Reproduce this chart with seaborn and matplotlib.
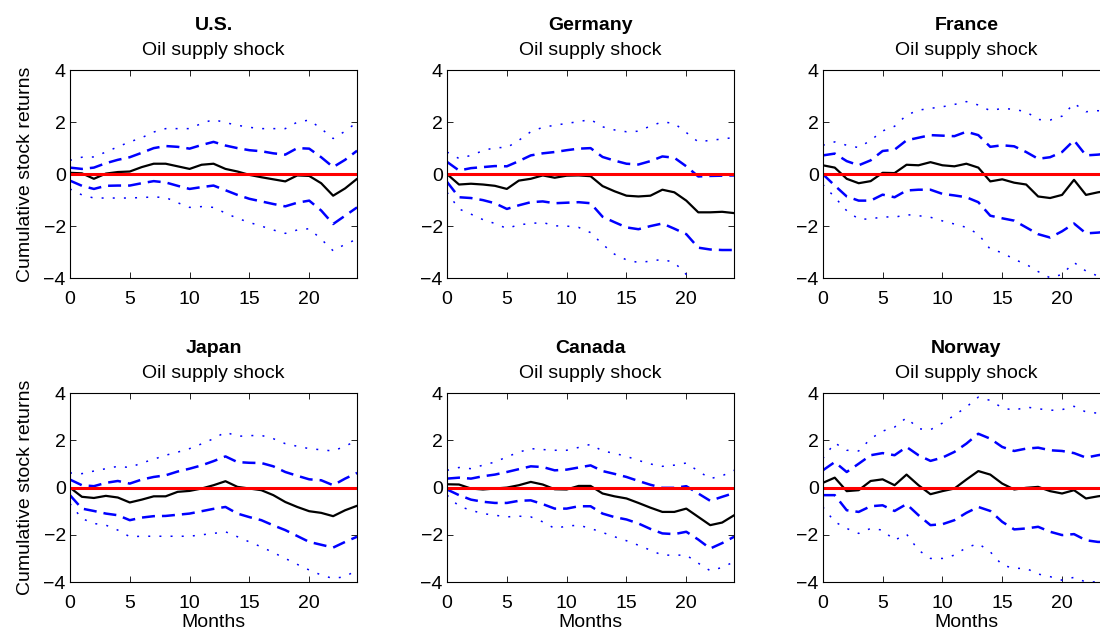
"""
Resposta acumulada dos retornos de acoes a um choque de oferta de petroleo.
Seis paises, mediana com bandas de 68% (tracejado) e 90% (pontilhado).
"""

import numpy as np
import pandas as pd
import seaborn as sns
import matplotlib.pyplot as plt

MONTHS = list(range(25))

# U.S.
US_MED = [0.05, 0.03, -0.18, 0.02, 0.08, 0.1, 0.27, 0.4, 0.4, 0.3, 0.2, 0.36, 0.4,
          0.2, 0.1, -0.03, -0.12, -0.2, -0.28, -0.05, -0.07, -0.35, -0.83, -0.55, -0.18]
US_HI68 = [0.25, 0.2, 0.25, 0.42, 0.55, 0.65, 0.82, 1.0, 1.08, 1.05, 0.98, 1.12, 1.24,
           1.1, 1.0, 0.92, 0.88, 0.8, 0.75, 1.0, 0.98, 0.65, 0.27, 0.55, 0.9]
US_LO68 = [-0.25, -0.45, -0.57, -0.45, -0.44, -0.44, -0.35, -0.27, -0.32, -0.45, -0.57, -0.5, -0.44,
           -0.62, -0.8, -0.95, -1.05, -1.15, -1.24, -1.1, -1.02, -1.4, -1.92, -1.6, -1.28]
US_HI90 = [0.53, 0.65, 0.66, 0.85, 1.05, 1.24, 1.4, 1.62, 1.75, 1.75, 1.75, 1.95, 2.1,
           1.98, 1.88, 1.8, 1.75, 1.75, 1.75, 2.0, 2.08, 1.75, 1.37, 1.65, 2.0]
US_LO90 = [-0.57, -0.8, -0.92, -0.92, -0.92, -0.92, -0.9, -0.88, -0.9, -1.1, -1.28, -1.25, -1.28,
           -1.5, -1.7, -1.86, -2.0, -2.15, -2.28, -2.15, -2.1, -2.5, -2.95, -2.7, -2.5]

# Germany
DE_MED = [0.0, -0.4, -0.37, -0.4, -0.45, -0.57, -0.25, -0.18, -0.05, -0.14, -0.06, -0.05, -0.08,
          -0.46, -0.66, -0.83, -0.86, -0.83, -0.6, -0.7, -1.02, -1.47, -1.47, -1.45, -1.5]
DE_HI68 = [0.47, 0.14, 0.23, 0.27, 0.31, 0.3, 0.5, 0.72, 0.8, 0.85, 0.92, 0.98, 1.0,
           0.66, 0.52, 0.4, 0.37, 0.5, 0.68, 0.63, 0.3, -0.09, -0.07, -0.06, -0.05]
DE_LO68 = [-0.3, -0.89, -0.92, -1.0, -1.12, -1.34, -1.2, -1.08, -1.05, -1.12, -1.1, -1.08, -1.12,
           -1.64, -1.85, -2.05, -2.12, -2.0, -1.9, -2.1, -2.31, -2.83, -2.9, -2.92, -2.92]
DE_HI90 = [0.85, 0.6, 0.72, 0.9, 1.02, 1.02, 1.3, 1.63, 1.8, 1.88, 1.95, 2.02, 2.1,
           1.82, 1.7, 1.63, 1.65, 1.85, 2.01, 1.95, 1.6, 1.24, 1.3, 1.35, 1.41]
DE_LO90 = [-0.7, -1.34, -1.54, -1.75, -1.9, -2.09, -1.95, -1.9, -1.86, -1.99, -2.0, -2.05, -2.25,
           -2.7, -3.08, -3.3, -3.4, -3.35, -3.28, -3.4, -3.86, -4.4, -4.6, -4.7, -4.8]

# France
FR_MED = [0.34, 0.25, -0.18, -0.35, -0.27, 0.05, 0.04, 0.36, 0.34, 0.46, 0.34, 0.3, 0.4,
          0.25, -0.28, -0.2, -0.33, -0.4, -0.86, -0.92, -0.8, -0.22, -0.8, -0.7, -0.63]
FR_HI68 = [0.72, 0.79, 0.5, 0.34, 0.53, 0.89, 0.94, 1.3, 1.4, 1.5, 1.48, 1.46, 1.63,
           1.5, 1.05, 1.11, 1.07, 0.85, 0.59, 0.65, 0.85, 1.3, 0.72, 0.75, 0.8]
FR_LO68 = [0.0, -0.44, -0.86, -1.02, -1.02, -0.79, -0.89, -0.63, -0.6, -0.6, -0.76, -0.82, -0.89,
           -1.08, -1.6, -1.7, -1.79, -2.05, -2.31, -2.44, -2.2, -1.9, -2.28, -2.25, -2.2]
FR_HI90 = [1.11, 1.24, 1.11, 1.02, 1.3, 1.66, 1.84, 2.27, 2.46, 2.53, 2.59, 2.68, 2.79,
           2.66, 2.44, 2.53, 2.49, 2.4, 2.1, 2.08, 2.23, 2.72, 2.4, 2.44, 2.4]
FR_LO90 = [-0.4, -0.89, -1.41, -1.73, -1.73, -1.64, -1.66, -1.56, -1.6, -1.66, -1.8, -1.92, -2.05,
           -2.31, -2.89, -3.02, -3.28, -3.47, -3.75, -3.99, -3.86, -3.4, -3.73, -3.92, -3.9]

# Japan
JP_MED = [0.0, -0.39, -0.44, -0.35, -0.42, -0.63, -0.51, -0.37, -0.37, -0.18, -0.14, -0.04, 0.1,
          0.27, 0.03, -0.04, -0.11, -0.32, -0.61, -0.82, -1.0, -1.07, -1.21, -0.96, -0.77]
JP_HI68 = [0.34, 0.1, 0.06, 0.2, 0.28, 0.17, 0.34, 0.45, 0.52, 0.68, 0.8, 0.94, 1.12,
           1.32, 1.08, 1.05, 1.04, 0.9, 0.66, 0.5, 0.35, 0.31, 0.1, 0.38, 0.62]
JP_LO68 = [-0.32, -0.89, -0.99, -1.1, -1.17, -1.38, -1.27, -1.21, -1.2, -1.15, -1.1, -1.0, -0.9,
           -0.82, -1.1, -1.25, -1.38, -1.6, -1.8, -2.05, -2.3, -2.42, -2.54, -2.3, -2.08]
JP_HI90 = [0.62, 0.59, 0.7, 0.8, 0.9, 0.85, 1.04, 1.2, 1.37, 1.5, 1.65, 1.85, 2.07,
           2.35, 2.17, 2.2, 2.21, 2.07, 1.86, 1.75, 1.65, 1.6, 1.55, 1.75, 2.0]
JP_LO90 = [-0.68, -1.31, -1.52, -1.59, -1.8, -2.08, -2.06, -2.06, -2.06, -2.06, -2.06, -2.0, -1.94,
           -1.87, -2.08, -2.3, -2.51, -2.75, -3.0, -3.25, -3.49, -3.7, -3.85, -3.77, -3.49]

# Canada
CA_MED = [0.14, 0.13, -0.04, -0.08, -0.04, 0.0, 0.1, 0.24, 0.13, -0.07, -0.08, 0.07, 0.07,
          -0.25, -0.37, -0.46, -0.65, -0.85, -1.03, -1.03, -0.89, -1.24, -1.59, -1.48, -1.17]
CA_HI68 = [0.38, 0.42, 0.38, 0.48, 0.55, 0.66, 0.78, 0.9, 0.87, 0.73, 0.76, 0.85, 0.94,
           0.7, 0.58, 0.45, 0.28, 0.12, -0.01, -0.01, 0.06, -0.25, -0.56, -0.39, -0.23]
CA_LO68 = [-0.08, -0.32, -0.51, -0.6, -0.65, -0.65, -0.56, -0.54, -0.7, -0.89, -0.89, -0.79, -0.79,
           -1.1, -1.25, -1.35, -1.52, -1.75, -1.94, -1.97, -1.87, -2.2, -2.58, -2.35, -2.08]
CA_HI90 = [0.73, 0.85, 0.8, 0.95, 1.08, 1.3, 1.5, 1.65, 1.61, 1.58, 1.58, 1.7, 1.83,
           1.55, 1.45, 1.32, 1.15, 1.0, 0.9, 0.95, 1.04, 0.7, 0.38, 0.5, 0.73]
CA_LO90 = [-0.32, -0.79, -0.96, -1.1, -1.17, -1.24, -1.21, -1.24, -1.45, -1.73, -1.63, -1.59, -1.73,
           -1.9, -2.08, -2.25, -2.44, -2.65, -2.86, -2.86, -2.86, -3.2, -3.52, -3.38, -3.14]

# Norway
NO_MED = [0.2, 0.42, -0.15, -0.11, 0.28, 0.35, 0.1, 0.55, 0.1, -0.28, -0.15, -0.04, 0.34,
          0.7, 0.55, 0.17, -0.08, -0.01, 0.03, -0.15, -0.25, -0.11, -0.46, -0.37, -0.3]
NO_HI68 = [0.73, 1.08, 0.66, 1.01, 1.37, 1.46, 1.37, 1.72, 1.37, 1.13, 1.27, 1.51, 1.86,
           2.28, 2.07, 1.72, 1.55, 1.65, 1.69, 1.58, 1.55, 1.46, 1.27, 1.37, 1.45]
NO_LO68 = [-0.32, -0.32, -0.96, -1.03, -0.79, -0.75, -0.99, -0.7, -1.17, -1.59, -1.55, -1.38, -1.07,
           -0.82, -0.99, -1.45, -1.77, -1.73, -1.66, -1.87, -2.01, -1.97, -2.23, -2.3, -2.3]
NO_HI90 = [1.23, 1.89, 1.58, 1.55, 2.07, 2.39, 2.56, 2.96, 2.49, 2.45, 2.73, 3.06, 3.41,
           3.83, 3.69, 3.38, 3.27, 3.41, 3.34, 3.27, 3.3, 3.44, 3.2, 3.15, 3.2]
NO_LO90 = [-0.82, -1.45, -1.73, -1.94, -1.73, -1.8, -2.23, -1.97, -2.65, -3.0, -3.0, -2.86, -2.54,
           -2.37, -2.72, -3.28, -3.42, -3.42, -3.66, -3.77, -3.92, -3.8, -4.0, -3.99, -4.0]

COUNTRIES = ["U.S.", "Germany", "France", "Japan", "Canada", "Norway"]
SERIES = [
    (US_MED, US_LO68, US_HI68, US_LO90, US_HI90),
    (DE_MED, DE_LO68, DE_HI68, DE_LO90, DE_HI90),
    (FR_MED, FR_LO68, FR_HI68, FR_LO90, FR_HI90),
    (JP_MED, JP_LO68, JP_HI68, JP_LO90, JP_HI90),
    (CA_MED, CA_LO68, CA_HI68, CA_LO90, CA_HI90),
    (NO_MED, NO_LO68, NO_HI68, NO_LO90, NO_HI90),
]
SUBTITLE = "Oil supply shock"
YTICKS = [-4, -2, 0, 2, 4]
XTICKS = [0, 5, 10, 15, 20]

# posicoes dos eixos (fracao da figura), estilo MATLAB
LEFTS = [0.0636, 0.4064, 0.748]
BOTTOMS = [0.560, 0.079]
WIDTH = 0.261
HEIGHTS = [0.329, 0.299]


def main() -> None:
    sns.set_style("ticks")
    plt.rcParams["font.family"] = ["Liberation Sans", "DejaVu Sans"]
    plt.rcParams["font.size"] = 14
    for key in ["text.color", "axes.labelcolor", "xtick.color", "ytick.color"]:
        plt.rcParams[key] = "black"

    fig = plt.figure(figsize=(11, 6.32), dpi=100)

    for i, (name, series) in enumerate(zip(COUNTRIES, SERIES)):
        row, col = divmod(i, 3)
        ax = fig.add_axes([LEFTS[col], BOTTOMS[row], WIDTH, HEIGHTS[row]])
        med, lo68, hi68, lo90, hi90 = series
        df = pd.DataFrame({"month": MONTHS, "med": med, "lo68": lo68, "hi68": hi68,
                           "lo90": lo90, "hi90": hi90})

        for col_name in ["lo90", "hi90"]:
            sns.lineplot(data=df, x="month", y=col_name, ax=ax, color="blue", lw=1.1,
                         linestyle=(0, (1.3, 6.0)))
        for col_name in ["lo68", "hi68"]:
            sns.lineplot(data=df, x="month", y=col_name, ax=ax, color="blue", lw=1.8,
                         linestyle=(0, (5.2, 2.8)))
        sns.lineplot(data=df, x="month", y="med", ax=ax, color="black", lw=1.6)
        ax.axhline(0, color="red", lw=2.2)

        ax.set_xlim(0, 24)
        ax.set_ylim(-4, 4)
        ax.set_xticks(XTICKS)
        ax.set_yticks(YTICKS)
        ax.tick_params(direction="in", top=True, right=True, length=4, width=0.6,
                       labelsize=14)
        ax.tick_params(axis="x", pad=9.5)
        ax.tick_params(axis="y", pad=3)
        for sp in ax.spines.values():
            sp.set_visible(True)
            sp.set_linewidth(0.8)
            sp.set_color("black")

        ax.set_title(SUBTITLE, fontsize=14, pad=11)
        ax.annotate(name, xy=(0.5, 1.0), xycoords="axes fraction", xytext=(0, 29),
                    textcoords="offset points", ha="center", va="baseline",
                    fontsize=14, fontweight="bold")

        ax.set_xlabel("Months" if row == 1 else "", labelpad=1)
        ax.set_ylabel("Cumulative stock returns" if col == 0 else "", labelpad=7)

    fig.savefig("out.png", dpi=100)
    plt.close(fig)


if __name__ == "__main__":
    main()
